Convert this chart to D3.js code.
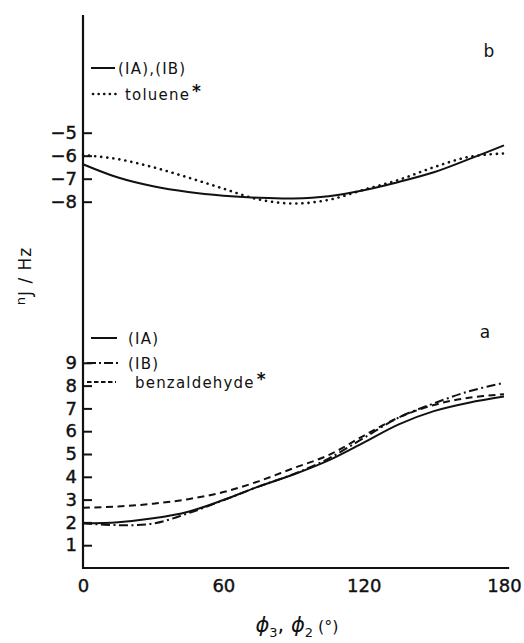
<!DOCTYPE html>
<html>
<head>
<meta charset="utf-8">
<script src="https://cdn.jsdelivr.net/npm/d3@7/dist/d3.min.js"></script>
<style>
  html, body { margin: 0; padding: 0; background: #fff; }
  svg { display: block; }
  text { font-family: "DejaVu Sans", sans-serif; fill: #111; }
</style>
</head>
<body>
<svg id="chart" width="524" height="643"></svg>
<script>
// ---- data ----
const angles = [0, 15, 30, 45, 60, 75, 90, 105, 120, 135, 150, 165, 180];

// panel b
const bIAIB    = [-6.37, -6.95, -7.33, -7.58, -7.74, -7.83, -7.86, -7.76, -7.50, -7.14, -6.72, -6.15, -5.55];
const bToluene = [-5.97, -6.15, -6.50, -6.95, -7.43, -7.90, -8.08, -7.92, -7.48, -7.05, -6.50, -6.05, -5.90];

// panel a
const aIA    = [1.96, 2.01, 2.18, 2.47, 2.98, 3.57, 4.10, 4.72, 5.50, 6.30, 6.88, 7.25, 7.52];
const aIB    = [1.96, 1.88, 1.95, 2.40, 2.97, 3.57, 4.12, 4.80, 5.70, 6.60, 7.22, 7.75, 8.12];
const aBenz  = [2.64, 2.70, 2.82, 3.02, 3.33, 3.80, 4.38, 4.95, 5.80, 6.60, 7.15, 7.47, 7.62];

const xTicks  = [0, 60, 120, 180];
const yTicksA = [1, 2, 3, 4, 5, 6, 7, 8, 9];
const yTicksB = [-5, -6, -7, -8];

const legendB = ["(IA),(IB)", "toluene"];
const legendA = ["(IA)", "(IB)", "benzaldehyde"];

// ---- drawing ----
const svg = d3.select("#chart");
const x  = d3.scaleLinear([0, 180], [83, 504]);
const yA = d3.scaleLinear([0, 9], [568, 568 - 9 * 22.8]);
const yB = d3.scaleLinear([-8, -5], [201.7, 132.7]);

const styles = {
  solid:   { dash: null,          cap: "butt",  w: 2 },
  dotted:  { dash: "0.1,6",       cap: "round", w: 2.6 },
  dashed:  { dash: "7,4.5",       cap: "butt",  w: 2 },
  dashdot: { dash: "9,3.5,2,3.5", cap: "butt",  w: 2 }
};

function drawCurve(vals, yScale, st) {
  const line = d3.line()
    .x((d, i) => x(angles[i]))
    .y(d => yScale(d))
    .curve(d3.curveCatmullRom.alpha(0.5));
  const s = styles[st];
  svg.append("path")
    .datum(vals)
    .attr("d", line)
    .attr("fill", "none")
    .attr("stroke", "#111")
    .attr("stroke-width", s.w)
    .attr("stroke-linecap", s.cap)
    .attr("stroke-dasharray", s.dash);
}

// axes
const gyA = svg.append("g").attr("transform", `translate(${x(0)},0)`)
  .call(d3.axisLeft(yA).tickValues(yTicksA).tickSize(-9).tickPadding(6).tickFormat(d3.format("d")));
const gyB = svg.append("g").attr("transform", `translate(${x(0)},0)`)
  .call(d3.axisLeft(yB).tickValues(yTicksB).tickSize(-9).tickPadding(6)
    .tickFormat(d => "\u2212" + Math.abs(d)));
const gx = svg.append("g").attr("transform", `translate(0,${yA(0)})`)
  .call(d3.axisBottom(x).tickValues(xTicks).tickSize(0).tickPadding(11));

[gyA, gyB, gx].forEach(g => {
  g.select(".domain").remove();
  g.selectAll(".tick line").attr("stroke", "#111").attr("stroke-width", 2);
  g.selectAll(".tick text").style("font-size", "18px").attr("fill", "#111")
    .attr("stroke", "#111").attr("stroke-width", 0.4)
    .style("font-family", '"DejaVu Sans", sans-serif');
});

// axis lines
svg.append("line").attr("x1", x(0)).attr("x2", x(0)).attr("y1", 15).attr("y2", yA(0) + 1)
  .attr("stroke", "#111").attr("stroke-width", 2.2);
svg.append("line").attr("x1", x(0)).attr("x2", x(182.2)).attr("y1", yA(0)).attr("y2", yA(0))
  .attr("stroke", "#111").attr("stroke-width", 2);

// curves
drawCurve(bIAIB, yB, "solid");
drawCurve(bToluene, yB, "dotted");
drawCurve(aIA, yA, "solid");
drawCurve(aIB, yA, "dashdot");
drawCurve(aBenz, yA, "dashed");

// legends
function legendItem(x1, x2, y, st, label, tx, star) {
  const s = styles[st];
  svg.append("line").attr("x1", x1).attr("x2", x2).attr("y1", y).attr("y2", y)
    .attr("stroke", "#111").attr("stroke-width", s.w)
    .attr("stroke-linecap", s.cap).attr("stroke-dasharray", st === "dotted" ? "0.1,5.5" : (st === "dashed" ? "4.5,2.5" : (st === "dashdot" ? "9,3,2,3" : null)));
  const t = svg.append("text").attr("x", tx).attr("y", y + 5.5)
    .style("font-size", "15px").style("letter-spacing", "1.2px").text(label);
  if (star) {
    t.append("tspan").attr("dx", 2).attr("dy", -3).style("font-size", "17px")
      .style("font-weight", "bold").text("*");
  }
}
legendItem(91, 115, 68, "solid", legendB[0], 118, false);
legendItem(93, 116, 94, "dotted", legendB[1], 125, true);
legendItem(91, 117, 338, "solid", legendA[0], 128, false);
legendItem(87, 118, 363, "dashdot", legendA[1], 128, false);
legendItem(87, 116, 382, "dashed", legendA[2], 135, true);

// panel letters
svg.append("text").attr("x", 489).attr("y", 57).attr("text-anchor", "middle")
  .style("font-size", "17px").text("b");
svg.append("text").attr("x", 485).attr("y", 338).attr("text-anchor", "middle")
  .style("font-size", "17px").text("a");

// y-axis title
const yt = svg.append("text").attr("transform", "translate(31,276) rotate(-90)")
  .attr("text-anchor", "middle").style("font-size", "17px").style("letter-spacing", "1px");
yt.append("tspan").attr("dy", -6).style("font-size", "13px").text("n");
yt.append("tspan").attr("dy", 6).text("J / Hz");

// x-axis title
const xt = svg.append("text").attr("x", 297).attr("y", 632).attr("text-anchor", "middle")
  .style("font-size", "21px");
xt.append("tspan").style("font-style", "italic").text("\u03D5");
xt.append("tspan").attr("dy", 5).style("font-size", "13px").text("3");
xt.append("tspan").attr("dy", -5).text(", ");
xt.append("tspan").style("font-style", "italic").text("\u03D5");
xt.append("tspan").attr("dy", 5).style("font-size", "13px").text("2");
xt.append("tspan").attr("dy", -5).style("font-size", "16px").text(" (°)");
</script>
</body>
</html>
